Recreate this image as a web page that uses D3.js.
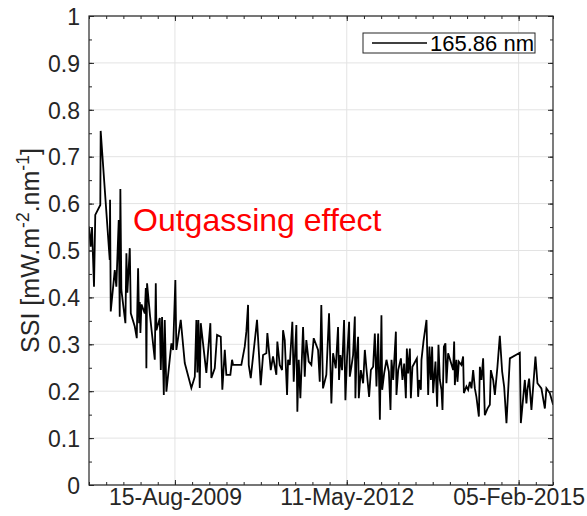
<!DOCTYPE html>
<html><head><meta charset="utf-8">
<script src="https://cdn.jsdelivr.net/npm/d3@7"></script>
<style>
body{margin:0;background:#fff}
text{font-family:"Liberation Sans",Arial,Helvetica,sans-serif}
</style>
</head><body><svg id="c" width="587" height="516"></svg>
<script>
// Time as decimal years, SSI values in mW.m^-2.nm^-1
const decYears = [
2008.251,2008.278,2008.299,2008.331,2008.351,2008.431,2008.437,2008.581,2008.586,2008.597,
2008.661,2008.686,2008.724,2008.740,2008.750,2008.766,2008.830,2008.846,2008.861,2008.900,
2008.916,2008.979,2009.011,2009.021,2009.032,2009.048,2009.059,2009.069,2009.085,2009.139,
2009.155,2009.164,2009.175,2009.223,2009.298,2009.314,2009.324,2009.378,2009.394,2009.414,
2009.442,2009.457,2009.483,2009.563,2009.590,2009.626,2009.642,2009.712,2009.776,2009.881,
2009.936,2009.961,2009.977,2009.993,2010.015,2010.031,2010.120,2010.184,2010.200,2010.254,
2010.291,2010.350,2010.375,2010.414,2010.439,2010.503,2010.530,2010.546,2010.678,2010.732,
2010.758,2010.785,2010.796,2010.828,2010.928,2010.987,2011.024,2011.077,2011.093,2011.147,
2011.183,2011.236,2011.252,2011.290,2011.327,2011.343,2011.370,2011.407,2011.423,2011.450,
2011.491,2011.513,2011.555,2011.571,2011.593,2011.619,2011.662,2011.689,2011.714,2011.752,
2011.794,2011.832,2011.901,2011.928,2011.953,2011.980,2012.033,2012.076,2012.113,2012.140,
2012.183,2012.219,2012.235,2012.256,2012.283,2012.315,2012.336,2012.363,2012.395,2012.406,
2012.431,2012.458,2012.486,2012.495,2012.511,2012.538,2012.549,2012.581,2012.618,2012.645,
2012.670,2012.713,2012.741,2012.777,2012.804,2012.830,2012.857,2012.884,2012.909,2012.921,
2012.952,2012.989,2013.027,2013.053,2013.069,2013.096,2013.139,2013.148,2013.176,2013.219,
2013.244,2013.271,2013.298,2013.314,2013.335,2013.362,2013.378,2013.403,2013.431,2013.474,
2013.494,2013.510,2013.537,2013.547,2013.579,2013.627,2013.654,2013.674,2013.697,2013.717,
2013.733,2013.770,2013.797,2013.818,2013.840,2013.866,2013.882,2013.904,2013.929,2013.945,
2013.972,2014.052,2014.068,2014.079,2014.105,2014.121,2014.143,2014.184,2014.211,2014.223,
2014.264,2014.291,2014.318,2014.344,2014.371,2014.398,2014.423,2014.462,2014.478,2014.503,
2014.530,2014.557,2014.599,2014.637,2014.653,2014.690,2014.717,2014.758,2014.796,2014.833,
2014.865,2014.902,2014.956,2015.115,2015.131,2015.195,2015.220,2015.236,2015.263,2015.300,
2015.364,2015.396,2015.459,2015.514,2015.539,2015.593,2015.646
];
const ssi = [
0.551,0.508,0.550,0.423,0.576,0.597,0.755,0.480,0.608,0.370,
0.458,0.423,0.565,0.359,0.631,0.416,0.345,0.494,0.410,0.505,
0.366,0.338,0.313,0.388,0.462,0.345,0.390,0.324,0.385,0.366,
0.420,0.249,0.430,0.360,0.267,0.430,0.330,0.356,0.245,0.358,
0.192,0.352,0.199,0.302,0.288,0.437,0.288,0.352,0.260,0.207,
0.231,0.352,0.240,0.352,0.207,0.345,0.239,0.345,0.228,0.249,
0.320,0.316,0.203,0.288,0.235,0.235,0.267,0.256,0.256,0.295,
0.327,0.384,0.256,0.228,0.352,0.213,0.277,0.281,0.324,0.245,
0.274,0.235,0.306,0.256,0.245,0.330,0.309,0.192,0.267,0.256,
0.348,0.220,0.341,0.156,0.267,0.185,0.337,0.231,0.309,0.263,
0.256,0.313,0.288,0.220,0.384,0.206,0.235,0.366,0.174,0.281,
0.249,0.337,0.224,0.277,0.245,0.352,0.181,0.274,0.348,0.231,
0.252,0.277,0.359,0.185,0.267,0.316,0.185,0.245,0.217,0.288,
0.249,0.188,0.245,0.252,0.323,0.210,0.323,0.139,0.362,0.203,
0.238,0.267,0.242,0.160,0.267,0.224,0.327,0.192,0.245,0.270,
0.224,0.259,0.185,0.291,0.238,0.291,0.185,0.252,0.259,0.270,
0.188,0.224,0.203,0.267,0.306,0.352,0.192,0.295,0.224,0.295,
0.196,0.263,0.167,0.299,0.224,0.203,0.160,0.295,0.302,0.217,
0.281,0.245,0.306,0.213,0.267,0.220,0.263,0.256,0.274,0.196,
0.210,0.203,0.220,0.206,0.245,0.206,0.188,0.146,0.252,0.224,
0.270,0.149,0.163,0.171,0.245,0.224,0.192,0.252,0.318,0.242,
0.210,0.132,0.270,0.282,0.132,0.224,0.174,0.203,0.227,0.160,
0.274,0.217,0.206,0.163,0.206,0.196,0.171
];
const xTickDates = ["2009-08-15","2012-05-11","2015-02-05"];
const xTickLabels = ["15-Aug-2009","11-May-2012","05-Feb-2015"];
const yTicks = [0,0.1,0.2,0.3,0.4,0.5,0.6,0.7,0.8,0.9,1];
const yTickLabels = ["0","0.1","0.2","0.3","0.4","0.5","0.6","0.7","0.8","0.9","1"];
const legendLabel = "165.86 nm";
const annotationText = "Outgassing effect";

const DAY = 864e5;
function decToDate(y){const yr=Math.floor(y);const s=Date.UTC(yr,0,1),e=Date.UTC(yr+1,0,1);return new Date(s+(y-yr)*(e-s));}
const data = decYears.map((d,i)=>({t:decToDate(d), v:ssi[i]}));
const majorDates = xTickDates.map(s=>new Date(s+"T00:00:00Z"));

const L=89,R=553,T=16,B=485;
const x0 = new Date(majorDates[0].getTime()-500*DAY);
const x1 = new Date(majorDates[2].getTime()+200*DAY);
const x = d3.scaleUtc().domain([x0,x1]).range([L,R]);
const y = d3.scaleLinear().domain([0,1]).range([B,T]);

const svg = d3.select("#c");
const axisCol = "#262626";
const fs = 23;

// grid
const g = svg.append("g");
g.selectAll(".gx").data(majorDates).enter().append("line")
 .attr("x1",d=>x(d)).attr("x2",d=>x(d)).attr("y1",T).attr("y2",B)
 .attr("stroke","#e3e3e3").attr("stroke-width",1);
g.selectAll(".gy").data(yTicks).enter().append("line")
 .attr("x1",L).attr("x2",R).attr("y1",d=>y(d)).attr("y2",d=>y(d))
 .attr("stroke","#e3e3e3").attr("stroke-width",1);

// line
svg.append("clipPath").attr("id","clip").append("rect").attr("x",L).attr("y",T).attr("width",R-L).attr("height",B-T);
svg.append("path").datum(data).attr("clip-path","url(#clip)")
 .attr("d",d3.line().x(d=>x(d.t)).y(d=>y(d.v)))
 .attr("fill","none").attr("stroke","#000").attr("stroke-width",1.8).attr("stroke-linejoin","miter");

// axes via d3
const minorX = [];
for(let t=x0.getTime(); t<=x1.getTime()+1; t+=100*DAY) minorX.push(new Date(t));
const minorY = d3.range(0,1.0001,0.05);

function tickAxis(axisGen, tr){
  const a = svg.append("g").attr("transform",tr).call(axisGen);
  a.select(".domain").remove();
  a.selectAll("line").attr("stroke",axisCol).attr("stroke-width",1);
  return a;
}
const bx = tickAxis(d3.axisBottom(x).tickValues(majorDates).tickSize(-5).tickPadding(4).tickFormat((d,i)=>xTickLabels[i]), `translate(0,${B})`);
bx.selectAll("text").attr("font-size",fs).attr("fill",axisCol);
tickAxis(d3.axisBottom(x).tickValues(minorX).tickSize(-3).tickFormat(""), `translate(0,${B})`);
tickAxis(d3.axisTop(x).tickValues(majorDates).tickSize(-5).tickFormat(""), `translate(0,${T})`);
tickAxis(d3.axisTop(x).tickValues(minorX).tickSize(-3).tickFormat(""), `translate(0,${T})`);
const ly = tickAxis(d3.axisLeft(y).tickValues(yTicks).tickSize(-5).tickPadding(9).tickFormat((d,i)=>yTickLabels[i]), `translate(${L},0)`);
ly.selectAll("text").attr("font-size",fs).attr("fill",axisCol).attr("dy","0.36em");
tickAxis(d3.axisLeft(y).tickValues(minorY).tickSize(-3).tickFormat(""), `translate(${L},0)`);
tickAxis(d3.axisRight(y).tickValues(yTicks).tickSize(-5).tickFormat(""), `translate(${R},0)`);
tickAxis(d3.axisRight(y).tickValues(minorY).tickSize(-3).tickFormat(""), `translate(${R},0)`);

// box
svg.append("rect").attr("x",L).attr("y",T).attr("width",R-L).attr("height",B-T)
 .attr("fill","none").attr("stroke",axisCol).attr("stroke-width",1.2);

// y label
const yfs = 25;
const yl = svg.append("text").attr("transform",`translate(39,${(T+B)/2}) rotate(-90)`)
 .attr("text-anchor","middle").attr("font-size",yfs).attr("fill",axisCol);
yl.append("tspan").text("SSI [mW.m");
yl.append("tspan").attr("baseline-shift","super").attr("font-size",yfs*0.7).text("-2");
yl.append("tspan").text(".nm");
yl.append("tspan").attr("baseline-shift","super").attr("font-size",yfs*0.7).text("-1");
yl.append("tspan").text("]");

// legend
svg.append("rect").attr("x",363).attr("y",33).attr("width",172).attr("height",20)
 .attr("fill","#fff").attr("stroke",axisCol).attr("stroke-width",1);
svg.append("line").attr("x1",372).attr("x2",427).attr("y1",43).attr("y2",43).attr("stroke","#000").attr("stroke-width",1.6);
svg.append("text").attr("x",430).attr("y",43).attr("dy","0.36em").attr("font-size",22).attr("fill","#000").text(legendLabel);

// annotation
svg.append("text").attr("x",133).attr("y",231).attr("font-size",32).attr("fill","#ff0000").text(annotationText);
</script></body></html>
